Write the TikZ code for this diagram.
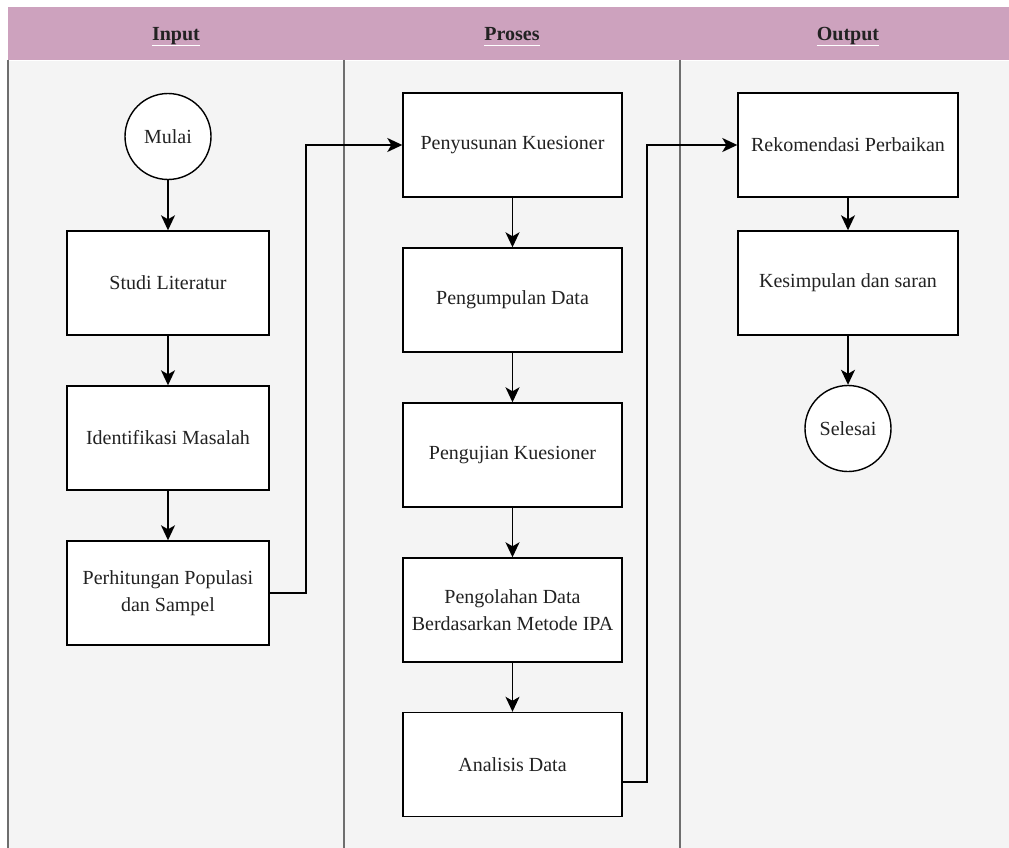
\documentclass[tikz,border=0pt]{standalone}
\usepackage{fontspec}
\setmainfont{Liberation Serif}
\usetikzlibrary{arrows.meta,calc}
\definecolor{hdrpink}{HTML}{CDA2BE}
\definecolor{lanebg}{HTML}{F4F4F4}
\definecolor{lanegray}{HTML}{6E6E6E}
\definecolor{txt}{HTML}{222222}
\tikzset{
  box/.style={draw=black, fill=white, line width=1.4pt, minimum width=#1, minimum height=104pt, inner sep=2pt, align=center, text=txt, font=\fontsize{20}{27}\selectfont},
  box/.default=202pt,
  term/.style={draw=black, fill=white, line width=1.4pt, circle, minimum size=86pt, inner sep=0pt, text=txt, font=\fontsize{20}{27}\selectfont},
  flow/.style={draw=black, line width=1.6pt, -{Stealth[length=15pt,width=14pt,inset=4pt]}},
  hdrtext/.style={inner sep=0pt, anchor=base, text=txt, font=\fontsize{20}{24}\selectfont\bfseries},
  laneline/.style={draw=lanegray, line width=1.6pt}
}
\begin{document}
\begin{tikzpicture}[x=1pt,y=-1pt]
\useasboundingbox (0,0) rectangle (1009,848);
\clip (0,0) rectangle (1009,848);
% lanes
\fill[white] (0,0) rectangle (1009,848);
\fill[lanebg] (8,60) rectangle (1030,870);
\fill[hdrpink] (8,7) rectangle (1030,60);
\draw[white, line width=0.8pt] (8,60) -- (1030,60);
\draw[laneline] (8,60) -- (8,870);
\draw[laneline] (344,60) -- (344,870);
\draw[laneline] (680,60) -- (680,870);
% headers
\node[hdrtext] (hin) at (176,40.5) {Input};
\node[hdrtext] (hpr) at (512,40.5) {Proses};
\node[hdrtext] (hout) at (848,40.5) {Output};
\foreach \h in {hin,hpr,hout}
  \draw[white, line width=1.3pt] ([yshift=-5pt]\h.base west) -- ([yshift=-5pt]\h.base east);
% input lane
\node[term] (mulai) at (168,136.5) {Mulai};
\node[box] (studi) at (168,283) {Studi Literatur};
\node[box] (ident) at (168,438) {Identifikasi Masalah};
\node[box] (perh) at (168,593) {Perhitungan Populasi\\dan Sampel};
% proses lane
\node[box=219pt] (peny) at (512.5,145) {Penyusunan Kuesioner};
\node[box=219pt] (pengum) at (512.5,300) {Pengumpulan Data};
\node[box=219pt] (penguj) at (512.5,455) {Pengujian Kuesioner};
\node[box=219pt] (pengol) at (512.5,610) {Pengolahan Data\\Berdasarkan Metode IPA};
\node[box=219pt] (anal) at (512.5,764.5) {Analisis Data};
% output lane
\node[box=220pt] (rek) at (848,145) {Rekomendasi Perbaikan};
\node[box=220pt] (kes) at (848,283) {Kesimpulan dan saran};
\node[term] (sel) at (848,428.5) {Selesai};
% connectors
\draw[flow] (mulai) -- (studi);
\draw[flow] (studi) -- (ident);
\draw[flow] (ident) -- (perh);
\coordinate (j1) at (306,0);
\draw[flow] (perh.east) -- (perh.east -| j1) |- (peny.west);
\draw[flow] (peny) -- (pengum);
\draw[flow] (pengum) -- (penguj);
\draw[flow] (penguj) -- (pengol);
\draw[flow] (pengol) -- (anal);
\coordinate (a1) at ([yshift=-17.5pt]anal.east);
\coordinate (j2) at (647,0);
\draw[flow] (a1) -- (a1 -| j2) |- (rek.west);
\draw[flow] (rek) -- (kes);
\draw[flow] (kes) -- (sel);
\end{tikzpicture}
\end{document}
